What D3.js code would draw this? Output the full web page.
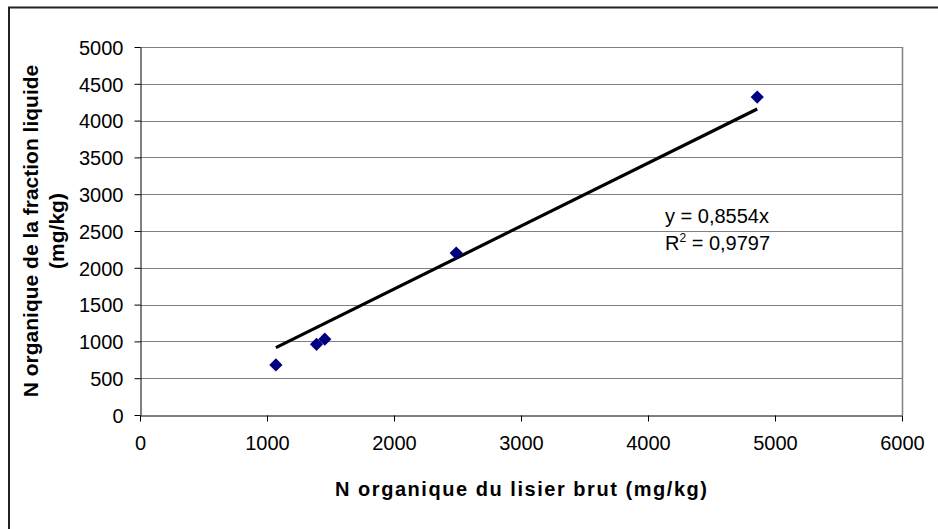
<!DOCTYPE html>
<html>
<head>
<meta charset="utf-8">
<script src="https://cdn.jsdelivr.net/npm/d3@7"></script>
<style>
  body { margin: 0; background: #fff; }
  text { font-family: "Liberation Sans", Arial, sans-serif; }
</style>
</head>
<body>
<script>
// N organique: lisier brut (x) vs fraction liquide (y)
const xValues = [1070, 1390, 1455, 2490, 4860];
const yValues = [680, 960, 1030, 2200, 4320];
const slope = 0.8554;
const xTicks = [0, 1000, 2000, 3000, 4000, 5000, 6000];
const yTicks = [0, 500, 1000, 1500, 2000, 2500, 3000, 3500, 4000, 4500, 5000];
const eqLines = ["y = 0,8554x", "R2 = 0,9797"];

const width = 938, height = 529;
const plotLeft = 140, plotRight = 902, plotTop = 47, plotBottom = 415;

const svg = d3.select("body").append("svg")
    .attr("width", width)
    .attr("height", height);

// outer chart frame (cut off on the right and bottom)
svg.append("rect")
    .attr("x", 9).attr("y", 7.5)
    .attr("width", 1000).attr("height", 1000)
    .attr("fill", "none")
    .attr("stroke", "#222")
    .attr("stroke-width", 2);

const x = d3.scaleLinear().domain([0, 6000]).range([plotLeft, plotRight]);
const y = d3.scaleLinear().domain([0, 5000]).range([plotBottom, plotTop]);

// gridlines
svg.append("g")
    .selectAll("line")
    .data(yTicks.filter(d => d > 0))
    .enter()
    .append("line")
    .attr("x1", plotLeft).attr("x2", plotRight)
    .attr("y1", d => Math.round(y(d)) + 0.5)
    .attr("y2", d => Math.round(y(d)) + 0.5)
    .attr("stroke", "#808080")
    .attr("stroke-width", 1);

// right border of plot area
svg.append("line")
    .attr("x1", plotRight + 0.5).attr("x2", plotRight + 0.5)
    .attr("y1", plotTop).attr("y2", plotBottom)
    .attr("stroke", "#808080")
    .attr("stroke-width", 1.5);

// axes
const fmt = d3.format("d");
const xAxis = svg.append("g")
    .attr("transform", `translate(0,${plotBottom + 0.5})`)
    .call(d3.axisBottom(x).tickValues(xTicks).tickFormat(fmt).tickSize(6).tickPadding(14).tickSizeOuter(0));
const yAxis = svg.append("g")
    .attr("transform", `translate(${plotLeft + 0.5},0)`)
    .call(d3.axisLeft(y).tickValues(yTicks).tickFormat(fmt).tickSize(6).tickPadding(11).tickSizeOuter(0));

[xAxis, yAxis].forEach(g => {
    g.select(".domain").attr("stroke", "#000");
    g.selectAll(".tick line").attr("stroke", "#000");
    g.selectAll(".tick text")
        .attr("fill", "#000")
        .style("font-size", "20px")
        .style("font-family", "'Liberation Sans', Arial, sans-serif");
});
yAxis.selectAll(".tick text").attr("dy", "0.36em");

// trendline through origin, drawn over the data range
const xMin = d3.min(xValues), xMax = d3.max(xValues);
svg.append("line")
    .attr("x1", x(xMin)).attr("y1", y(slope * xMin))
    .attr("x2", x(xMax)).attr("y2", y(slope * xMax))
    .attr("stroke", "#000")
    .attr("stroke-width", 3.2);

// markers (square diamonds)
const diamond = d3.symbol().type(d3.symbolSquare).size(88);
svg.append("g")
    .selectAll("path")
    .data(xValues.map((d, i) => [d, yValues[i]]))
    .enter()
    .append("path")
    .attr("d", diamond)
    .attr("transform", d => `translate(${x(d[0])},${y(d[1])}) rotate(45)`)
    .attr("fill", "#000080");

// equation label
const eq = svg.append("text")
    .attr("x", 665)
    .attr("y", 223)
    .style("font-size", "20px")
    .attr("fill", "#000");
eq.append("tspan").attr("x", 665).text(eqLines[0]);
const r2 = eq.append("tspan").attr("x", 665).attr("dy", 27);
r2.append("tspan").text("R");
r2.append("tspan").attr("dy", -8).style("font-size", "12px").text("2");
r2.append("tspan").attr("dy", 8).text(eqLines[1].slice(2));

// axis titles
svg.append("text")
    .attr("x", (plotLeft + plotRight) / 2)
    .attr("y", 496)
    .attr("text-anchor", "middle")
    .attr("textLength", 372)
    .attr("lengthAdjust", "spacing")
    .style("font-size", "20px")
    .style("font-weight", "bold")
    .text("N organique du lisier brut (mg/kg)");

const yTitle = svg.append("text")
    .attr("transform", `translate(0,${(plotTop + plotBottom) / 2}) rotate(-90)`)
    .attr("text-anchor", "middle")
    .style("font-size", "21px")
    .style("font-weight", "bold");
yTitle.append("tspan").attr("x", 0).attr("y", 38).text("N organique de la fraction liquide");
yTitle.append("tspan").attr("x", 0).attr("y", 64).text("(mg/kg)");
</script>
</body>
</html>
